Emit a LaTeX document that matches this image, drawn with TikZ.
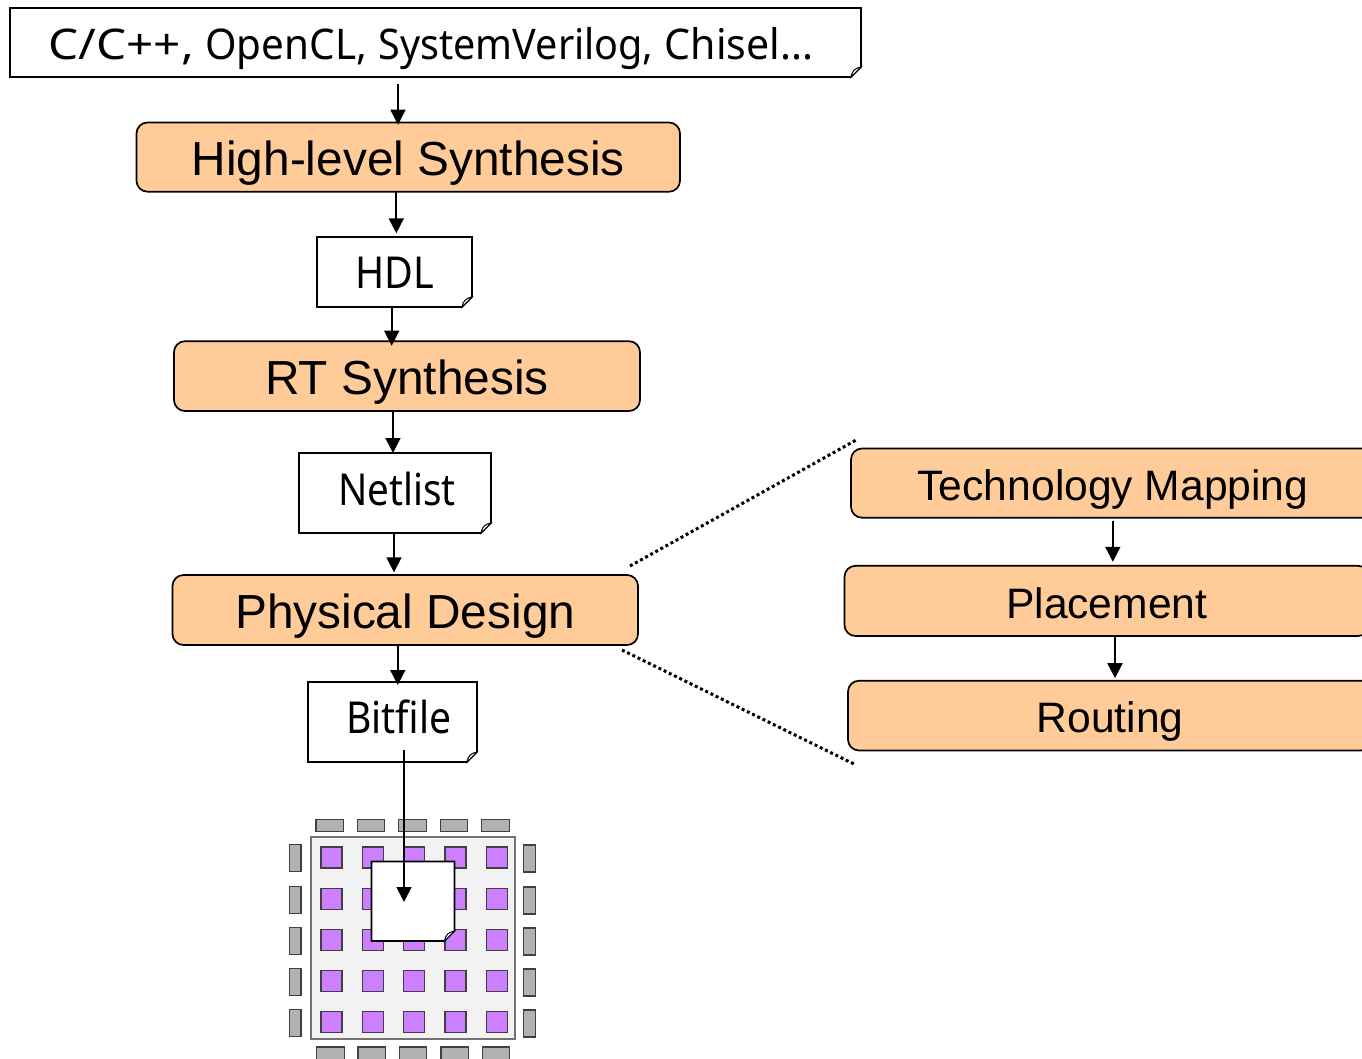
\documentclass[tikz,border=0pt]{standalone}
\usepackage{graphicx}
\usepackage{fontspec}
\setmainfont{Liberation Sans}
\newfontfamily\docfont{Noto Sans}
\usetikzlibrary{arrows.meta}
\definecolor{procfill}{HTML}{FFCC99}
\definecolor{corefill}{HTML}{F2F2F2}
\definecolor{padfill}{HTML}{B2B2B2}
\definecolor{cellfill}{HTML}{CC80FF}
\tikzset{
  procbox/.style={draw=black,fill=procfill,line width=1.7pt,rounded corners=11pt,inner sep=0pt,outer sep=0pt,anchor=north west,font=\fontsize{47.8}{58}\selectfont},
  subbox/.style={procbox,font=\fontsize{42.6}{52}\selectfont},
  docbox/.style={inner sep=0pt,outer sep=0pt,anchor=north west,font=\docfont\fontsize{44}{50}\selectfont},
  docline/.style={draw=black,fill=white,line width=1.7pt,line join=miter},
  foldline/.style={draw=black,fill=white,line width=1pt},
  arr/.style={draw=black,line width=1.7pt,-{Triangle[width=15pt,length=15pt]}},
  zoomline/.style={draw=black,line width=3pt,dash pattern=on 3pt off 2.8pt},
  corebox/.style={draw=black!55,fill=corefill,line width=1.2pt},
  cell/.style={draw=black!75,fill=cellfill,line width=1.2pt},
  pad/.style={draw=black!75,fill=padfill,line width=1.2pt},
}
% name, x1, y1, x2, y2, x shift of the text, baseline y, text
\newcommand{\docshape}[8]{%
  \path[docline] (#2,#3) -- (#4,#3) -- (#4,#5-10) -- (#4-10,#5) -- (#2,#5) -- cycle;
  \path[foldline] (#4-10,#5) -- (#4,#5-10) .. controls (#4-6,#5-9) and (#4-9,#5-6) .. (#4-10,#5) -- cycle;
  \pgfmathsetmacro{\bw}{#4-#2}\pgfmathsetmacro{\bh}{#5-#3}\pgfmathsetmacro{\bup}{(#3+#5)/2-#7}\pgfmathsetmacro{\bsh}{2*#6}
  \node[docbox,minimum width=\bw pt,minimum height=\bh pt] (#1) at (#2,#3) {\hspace*{\bsh pt}\raisebox{\bup pt}[0pt][0pt]{#8}};
}
% name, style, x1, y1, x2, y2, baseline y, text
\newcommand{\procshape}[8]{%
  \pgfmathsetmacro{\bw}{#5-#3}\pgfmathsetmacro{\bh}{#6-#4}\pgfmathsetmacro{\bup}{(#4+#6)/2-#7}
  \node[#2,minimum width=\bw pt,minimum height=\bh pt] (#1) at (#3,#4) {\raisebox{\bup pt}[0pt][0pt]{#8}};
}
\begin{document}
\begin{tikzpicture}[x=1pt,y=-1pt]
\useasboundingbox (0,0) rectangle (1362,1058);
\clip (0,0) rectangle (1362,1058);
% chip
\path[corebox] (311,837) rectangle (515,1039);
\foreach \x in {321,362.5,403.8,445,486.5}
  \foreach \y in {847,888.3,929.3,970.3,1011.3}
    \path[cell] (\x,\y) rectangle +(21,21);
\foreach \x in {316,357.3,398.7,440.3,481.7}
  \path[pad] (\x,819.5) rectangle +(27.5,11.7);
\foreach \x in {316.7,358,399.3,441,482.3}
  \path[pad] (\x,1047) rectangle +(27.5,14);
\foreach \y in {844.7,886.7,927.7,968.7,1009.7}
  \path[pad] (289.3,\y) rectangle +(11.7,27);
\foreach \y in {845,887,928,969,1010}
  \path[pad] (523.7,\y) rectangle +(11.7,27);
% documents
\docshape{src}{10}{8}{861}{77}{-4.5}{59.5}{\scalebox{1.084}[0.96]{C/C++,} \scalebox{0.918}[0.96]{OpenCL,} \scalebox{0.898}[0.96]{SystemVerilog,} \scalebox{0.934}[0.96]{Chisel...}}
\docshape{hdl}{317}{237}{472}{307}{0.5}{288.3}{\scalebox{0.897}[1]{HDL}}
\docshape{net}{299}{453}{491}{533}{2}{505}{\scalebox{0.878}[1]{Netlist}}
\docshape{bit}{308}{682}{477}{762}{6.5}{733}{\scalebox{0.888}[1]{Bitfile}}
\docshape{img}{371.5}{861.5}{454.5}{941}{0}{905}{}
% processes
\procshape{hls}{procbox}{136.5}{122.5}{680}{191.7}{175}{High-level Synthesis}
\procshape{rts}{procbox}{174}{341.2}{640}{411}{394}{RT Synthesis}
\procshape{phy}{procbox}{172.5}{575}{638}{645}{628.5}{Physical Design}
\procshape{tec}{subbox}{851}{448.5}{1375}{517.7}{500}{Technology Mapping}
\procshape{pla}{subbox}{844.5}{565.8}{1369}{636}{618}{Placement}
\procshape{rou}{subbox}{848}{680.7}{1372}{750.5}{732.5}{Routing}
% connector positions
\coordinate (srcend) at (398,84);
\coordinate (srctip) at (398,124.7);
\coordinate (a) at (396.3,0);
\coordinate (b) at (391.7,0);
\coordinate (c) at (393,0);
\coordinate (d) at (394,0);
\coordinate (e) at (397.8,0);
\coordinate (f) at (1112.8,0);
\coordinate (g) at (1115,0);
\coordinate (bitstart) at (404,750);
\coordinate (bitend) at (404,902);
\coordinate (zu1) at (630,566);
\coordinate (zu2) at (858,439);
\coordinate (zl1) at (622,650);
\coordinate (zl2) at (856,765);
% connectors
\draw[arr] (srcend) -- (srctip);
\draw[arr] (hls.south -| a) -- ([yshift=3.7pt]hdl.north -| a);
\draw[arr] (hdl.south -| b) -- ([yshift=-4.5pt]rts.north -| b);
\draw[arr] (rts.south -| c) -- (net.north -| c);
\draw[arr] (net.south -| d) -- ([yshift=2.7pt]phy.north -| d);
\draw[arr] (phy.south -| e) -- ([yshift=-3pt]bit.north -| e);
\draw[arr] (bitstart) -- (bitend);
\draw[arr] ([yshift=-3pt]tec.south -| f) -- ([yshift=4pt]pla.north -| f);
\draw[arr] (pla.south -| g) -- ([yshift=2.5pt]rou.north -| g);
\draw[zoomline] (zu1) -- (zu2);
\draw[zoomline] (zl1) -- (zl2);
\end{tikzpicture}
\end{document}
